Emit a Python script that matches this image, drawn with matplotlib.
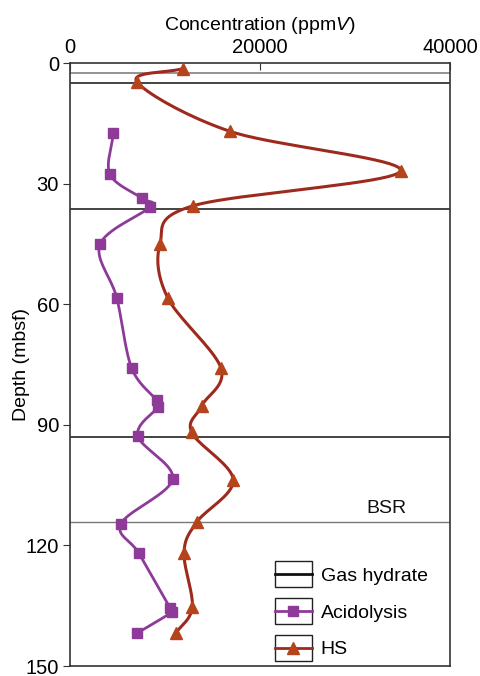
import numpy as np
import matplotlib
matplotlib.use("Agg")
import matplotlib.pyplot as plt
from matplotlib.legend_handler import HandlerBase
from matplotlib.patches import Rectangle
from matplotlib.lines import Line2D

plt.rcParams['font.family'] = ['Liberation Sans', 'DejaVu Sans']
plt.rcParams['mathtext.fontset'] = 'custom'
plt.rcParams['mathtext.it'] = 'Liberation Sans:italic'
plt.rcParams['mathtext.rm'] = 'Liberation Sans'

# ---- data ----
hs_depth = [1.4, 4.7, 17.0, 26.9, 35.5, 45.0, 58.4, 75.9, 85.3, 91.9, 103.7, 114.2, 121.8, 135.3, 141.9]
hs_conc = [11900, 7050, 16840, 34800, 12980, 9470, 10280, 15890, 13860, 12810, 17190, 13340, 12000, 12870, 11120]

acid_depth = [17.4, 27.7, 33.7, 35.8, 45.1, 58.4, 75.9, 83.9, 85.5, 92.7, 103.5, 114.6, 122.0, 135.6, 136.6, 141.8]
acid_conc = [4560, 4210, 7610, 8420, 3160, 4920, 6490, 9130, 9290, 7130, 10810, 5370, 7260, 10530, 10710, 7080]

hydrate_lines = [2.4, 5.0, 36.3, 93.0]
hydrate_colors = ['#777777', '#111111', '#111111', '#111111']
bsr_depth = 114.2

x_ticks = [0, 20000, 40000]
y_ticks = [0, 30, 60, 90, 120, 150]

HS_LINE = '#9E2A1E'
HS_MARK = '#B5441C'
PURPLE = '#8E3A98'


def catmull_rom(xs, ys, n=20):
    x = np.asarray(xs, float)
    y = np.asarray(ys, float)
    px = np.concatenate([[2 * x[0] - x[1]], x, [2 * x[-1] - x[-2]]])
    py = np.concatenate([[2 * y[0] - y[1]], y, [2 * y[-1] - y[-2]]])
    ox, oy = [], []
    t = np.linspace(0, 1, n, endpoint=False)
    for i in range(1, len(px) - 2):
        for arr, out in ((px, ox), (py, oy)):
            p0, p1, p2, p3 = arr[i - 1], arr[i], arr[i + 1], arr[i + 2]
            out.extend(0.5 * ((2 * p1) + (-p0 + p2) * t + (2 * p0 - 5 * p1 + 4 * p2 - p3) * t ** 2
                              + (-p0 + 3 * p1 - 3 * p2 + p3) * t ** 3))
    ox.append(x[-1]); oy.append(y[-1])
    return np.array(ox), np.array(oy)


fig = plt.figure(figsize=(4.8, 6.76), dpi=100)
top_px, bot_px = 63, 666
ax = fig.add_axes([70 / 480, 1 - bot_px / 676, 380 / 480, (bot_px - top_px) / 676])

FS = 14
TFS = 14.5

for d, c in zip(hydrate_lines, hydrate_colors):
    ax.axhline(d, color=c, lw=1.1, zorder=1)
ax.axhline(bsr_depth, color='#777777', lw=1.0, zorder=1)
ax.text(33300, bsr_depth - 3.4, 'BSR', fontsize=FS, ha='center', va='center', color='#111111')

sx, sy = catmull_rom(acid_conc, acid_depth)
ax.plot(sx, sy, color=PURPLE, lw=2.0, zorder=2)
ax.plot(acid_conc, acid_depth, ls='none', marker='s', ms=7, color=PURPLE, zorder=3)

sx, sy = catmull_rom(hs_conc, hs_depth)
ax.plot(sx, sy, color=HS_LINE, lw=2.2, zorder=2)
ax.plot(hs_conc, hs_depth, ls='none', marker='^', ms=8, color=HS_MARK, zorder=3)

ax.set_xlim(0, 40000)
ax.set_ylim(150, 0)
ax.xaxis.tick_top()
ax.xaxis.set_label_position('top')
ax.set_xticks(x_ticks)
ax.set_xticklabels([str(v) for v in x_ticks], fontsize=TFS)
ax.set_yticks(y_ticks)
ax.set_yticklabels([str(v) for v in y_ticks], fontsize=TFS)
ax.tick_params(axis='x', direction='in', length=5, pad=4, color='#333333')
ax.tick_params(axis='y', direction='out', length=5, pad=3, color='#333333')
for s in ax.spines.values():
    s.set_color('#333333')
    s.set_linewidth(1.2)
ax.set_xlabel('Concentration (ppm$V$)', fontsize=FS, labelpad=6)
ax.set_ylabel('Depth (mbsf)', fontsize=FS, labelpad=-3)


class BoxHandler(HandlerBase):
    def __init__(self, color, marker=None, mcolor=None, ms=7):
        super().__init__()
        self.color = color
        self.marker = marker
        self.mcolor = mcolor
        self.ms = ms

    def create_artists(self, legend, orig_handle, xdescent, ydescent, width, height, fontsize, trans):
        x0, y0 = -xdescent, -ydescent
        rect = Rectangle((x0, y0 - 3), width, height + 6, fc='none', ec='#222222', lw=1.0, transform=trans)
        yc = y0 + height / 2
        line = Line2D([x0, x0 + width], [yc, yc], color=self.color, lw=2.0, transform=trans)
        arts = [rect, line]
        if self.marker:
            m = Line2D([x0 + width / 2], [yc], marker=self.marker, ms=self.ms, color=self.mcolor,
                       ls='none', transform=trans)
            arts.append(m)
        return arts


h1, h2, h3 = object(), object(), object()
leg = ax.legend([h1, h2, h3], ['Gas hydrate', 'Acidolysis', 'HS'],
                handler_map={h1: BoxHandler('#111111'),
                             h2: BoxHandler(PURPLE, 's', PURPLE, 7),
                             h3: BoxHandler(HS_LINE, '^', HS_MARK, 8)},
                loc='upper left', bbox_to_anchor=(0.539, 0.167), frameon=False,
                fontsize=FS, handlelength=1.9, handleheight=1.0, labelspacing=0.9,
                handletextpad=0.45, borderpad=0, borderaxespad=0)

fig.savefig('out.png', dpi=100)
